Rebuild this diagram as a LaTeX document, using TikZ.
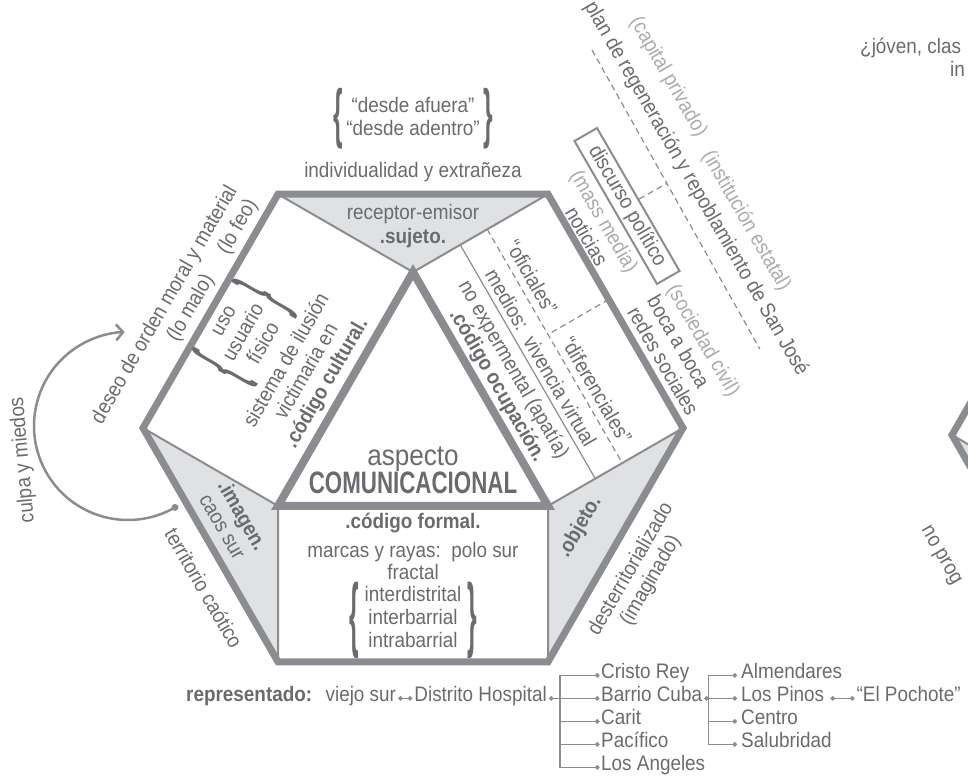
\documentclass[tikz,border=0pt]{standalone}
\usepackage{fontspec}
\usepackage{graphicx}
\setmainfont{Liberation Sans}[FakeStretch=0.9]
\newfontfamily\condensedbold{Liberation Sans}[FakeStretch=0.72]
\usetikzlibrary{arrows.meta,positioning,calc}
\definecolor{ink}{HTML}{6A6B6E}
\definecolor{rule}{HTML}{8B8C8F}
\definecolor{pale}{HTML}{A9ABAE}
\definecolor{zone}{HTML}{E0E1E2}
\newcommand{\bracel}[1]{$\vcenter{\hbox{\scalebox{1.3}[#1]{\bfseries\{}}}$}
\newcommand{\bracer}[1]{$\vcenter{\hbox{\scalebox{1.3}[#1]{\bfseries\}}}}$}
\tikzset{
  txt/.style={font=\fontsize{21}{23}\selectfont, text=ink, inner sep=0pt, align=center},
  txtb/.style={txt, font=\fontsize{21}{23}\selectfont\bfseries},
  softtxt/.style={txt, text=pale},
  hexline/.style={draw=rule, line width=7pt, line join=miter},
  coreline/.style={draw=rule, line width=8pt, line join=miter},
  zoneline/.style={draw=rule, line width=2pt},
  zonefill/.style={fill=zone},
  divline/.style={draw=rule, line width=1.2pt},
  dashline/.style={divline, dash pattern=on 6pt off 4pt},
  framebox/.style={txt, draw=rule, line width=2pt, minimum width=165pt, minimum height=26pt},
  branchline/.style={draw=rule, line width=1.2pt},
  dotlink/.style={branchline, {Circle[length=4.5pt]}-{Circle[length=4.5pt]}},
  loopline/.style={draw=rule, line width=2.5pt, -{Straight Barb[length=7pt,width=16pt]}},
}
\begin{document}
\begin{tikzpicture}[x=1pt,y=-1pt]
\useasboundingbox (0,0) rectangle (968,779);
\clip (0,0) rectangle (968,779);

% hexagon corners and the inner triangle
\coordinate (TL) at (278,194.2);
\coordinate (TR) at (548,194.2);
\coordinate (R)  at (683,428);
\coordinate (BR) at (548,661.8);
\coordinate (BL) at (278,661.8);
\coordinate (L)  at (143,428);
\coordinate (A)  at (413,272.1);
\coordinate (Q)  at (278,505.9);
\coordinate (Q2) at (548,505.9);

% grey corners
\fill[zonefill] (TL) -- (TR) -- (A) -- cycle;
\fill[zonefill] (L) -- (Q) -- (BL) -- cycle;
\fill[zonefill] (R) -- (Q2) -- (BR) -- cycle;
\draw[zoneline] (TL) -- (A) -- (TR);
\draw[zoneline] (L) -- (Q) -- (BL);
\draw[zoneline] (R) -- (Q2) -- (BR);

% splits of the right panel
\draw[divline] ($(TR)!0.65!(A)$) -- ($(R)!0.65!(Q2)$);
\coordinate (d1) at ($(TR)!0.45!(A)$);
\coordinate (d2) at ($(R)!0.45!(Q2)$);
\draw[dashline] (d1) -- (d2);
\draw[dashline] ($(TR)!0.45!(R)$) -- ($(d1)!0.45!(d2)$);

\draw[hexline] (TL) -- (TR) -- (R) -- (BR) -- (BL) -- (L) -- cycle;
\draw[coreline] (A) -- (Q2) -- (Q) -- cycle;

% next hexagon, cut by the frame
\coordinate (L2) at (952,435);
\fill[zonefill] (L2) -- ++(135,77.9) -- ++(0,155.9) -- cycle;
\draw[zoneline] (L2) -- ++(135,77.9);
\draw[hexline] (1087,201.2) -- (L2) -- (1087,668.8);

% top
\node[txt] (desde) at (413,119)
  {\bracel{3.1}\,\begin{tabular}{@{}c@{}}“desde afuera”\\“desde adentro”\end{tabular}\,\bracer{3.1}};
\node[txt, anchor=base] (indiv) at (413,177) {individualidad y extrañeza};
\node[txt, anchor=base] (recep) at (413,219) {receptor-emisor};
\node[txtb, anchor=base] (sujeto) at (413,243) {.sujeto.};

% centre
\node[txt, font=\fontsize{29}{29}\selectfont, anchor=base] (aspecto) at (413,465) {aspecto};
\node[txt, font=\fontsize{31}{31}\selectfont\condensedbold\bfseries, anchor=base] (comu) at (413,493) {COMUNICACIONAL};

% left panel
\node[txt, rotate=60] (uso) at (245,333)
  {\bracel{3.8}\;\begin{tabular}{@{}c@{}}uso\\usuario\\físico\end{tabular}\;\bracer{3.8}};
\node[txt, rotate=60] (ilusion) at (307,372)
  {sistema de ilusión\\victimaria en\\\textbf{.código cultural.}};
\node[txt, rotate=60] (deseo) at (165,305) {deseo de orden moral y material};
\node[txt, rotate=60] (malo) at (191,308) {(lo malo)};
\node[txt, rotate=60] (feo) at (238,227) {(lo feo)};

% right panel
\node[txt, rotate=-60] (oficial) at (532,277) {“oficiales”};
\node[txt, rotate=-60] (difer) at (597,390) {“diferenciales”};
\node[txt, rotate=-60] (medios) at (541,358) {medios:\enspace vivencia virtual};
\node[txt, rotate=-60] (noexp) at (513,370) {no expermental (apatía)};
\node[txtb, rotate=-60] (ocupa) at (497,386) {.código ocupación.};
\node[softtxt, rotate=-60] (massm) at (603,222) {(mass media)};
\node[txt, rotate=-60] (notic) at (587,236) {noticias};
\node[framebox, rotate=-60] (discurso) at (627,206) {discurso político};
\node[txt, rotate=-60, anchor=west, align=left] (civil) at (653,297)
  {\textcolor{pale}{(sociedad civil)}\\boca a boca\\redes sociales};

% plan line
\coordinate (pl1) at (592,50);
\coordinate (pl2) at (759.8,349);
\draw[dashline] (pl1) -- (pl2);
\draw[dashline] (discurso.north) -- ($(pl1)!(discurso.north)!(pl2)$);
\node[txt, rotate=-60] (plan) at (696,189) {plan de regeneración y repoblamiento de San José};
\node[softtxt, rotate=-60] (capital) at (668,77) {(capital privado)};
\node[softtxt, rotate=-60] (estatal) at (746,221) {(institución estatal)};

% lower corners
\node[txt, rotate=-60] (imagen) at (233,521) {\textbf{.imagen.}\\caos sur};
\node[txt, rotate=-60] (caotico) at (204,588) {territorio caótico};
\node[txtb, rotate=60] (objeto) at (580,527) {.objeto.};
\node[txt, rotate=60] (desterr) at (641,575) {desterritorializado\\(imaginado)};

% loop on the left
\node[circle, fill=rule, inner sep=0pt, minimum size=7pt] (cdot) at (175,507.4) {};
\draw[loopline] (cdot.center) arc[start angle=60, end angle=268, radius=94];
\node[txt, rotate=95] (culpa) at (23,460) {culpa y miedos};

% bottom rectangle
\node[txtb, anchor=base] (formal) at (413,528) {.código formal.};
\node[txt, anchor=base] (marcas) at (413,557) {marcas y rayas:\enspace polo sur};
\node[txt, anchor=base] (fractal) at (413,579) {fractal};
\node[txt] (inter) at (413,620)
  {\bracel{3.9}\;\begin{tabular}{@{}c@{}}interdistrital\\interbarrial\\intrabarrial\end{tabular}\;\bracer{3.9}};

% represented places
\node[txtb, anchor=base west] (repr) at (186,701) {representado:};
\node[txt, base right=13pt of repr] (viejo) {viejo sur};
\node[txt, base right=18pt of viejo] (dhosp) {Distrito Hospital};
\draw[dotlink] ([xshift=2pt]viejo.mid east) -- ([xshift=-2pt]dhosp.mid west);
\foreach \nm/\lab [count=\i] in {crey/Cristo Rey, bcuba/Barrio Cuba, carit/Carit,
    pacif/Pacífico, angel/Los Angeles}
  \node[txt, anchor=base west] (\nm) at (601,655+23*\i) {\lab};
\coordinate (colA) at (560,0);
\coordinate (jA) at (dhosp.mid east -| colA);
\draw[branchline, {Circle[length=4.5pt]}-] ([xshift=2pt]dhosp.mid east) -- (jA);
\foreach \nm in {crey,bcuba,carit,pacif,angel}
  \draw[branchline, -{Circle[length=4.5pt]}] (jA) |- ([xshift=-1.5pt]\nm.mid west);

\foreach \nm/\lab [count=\i] in {almend/Almendares, pinos/Los Pinos, centro/Centro,
    salub/Salubridad}
  \node[txt, anchor=base west] (\nm) at (741,655+23*\i) {\lab};
\coordinate (jB) at ([xshift=6pt]bcuba.mid east);
\draw[branchline, {Circle[length=4.5pt]}-] ([xshift=2pt]bcuba.mid east) -- (jB);
\foreach \nm in {almend,pinos,centro,salub}
  \draw[branchline, -{Circle[length=4.5pt]}] (jB) |- ([xshift=-4pt]\nm.mid west);
\node[txt, base right=32pt of pinos] (pochote) {“El Pochote”};
\draw[dotlink] ([xshift=6pt]pinos.mid east) -- ([xshift=-2pt]pochote.mid west);

% cut-off labels at the right edge
\node[txt, anchor=base west] (joven) at (860,53) {¿jóven, clas};
\node[txt, anchor=base west] (inl) at (950,76) {in};
\node[txt, rotate=-60, anchor=west] (noprog) at (924,528) {no prog};
\end{tikzpicture}
\end{document}
